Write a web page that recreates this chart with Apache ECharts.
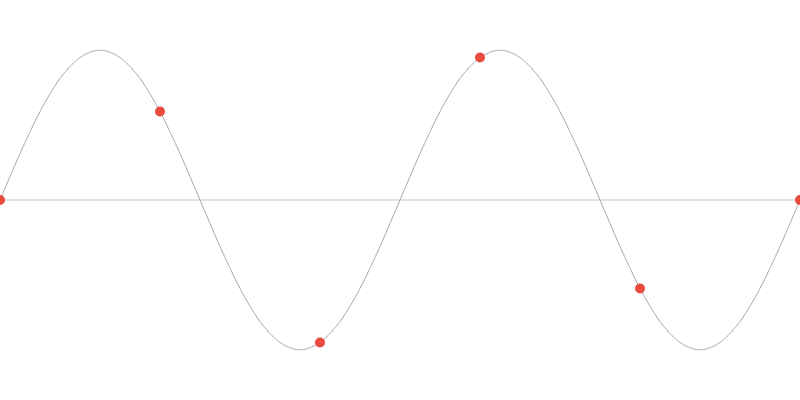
<!DOCTYPE html>
<html>
<head>
<meta charset="utf-8">
<script src="https://cdn.jsdelivr.net/npm/echarts@6/dist/echarts.min.js"></script>
<style>
  html, body { margin: 0; padding: 0; background: #fff; }
  #chart { width: 800px; height: 400px; }
</style>
</head>
<body>
<div id="chart"></div>
<script>
// wave samples, one every step (two full periods)
const waveX = [0, 1, 2, 3, 4, 5, 6, 7, 8, 9, 10, 11, 12, 13, 14, 15, 16, 17, 18, 19, 20,
  21, 22, 23, 24, 25, 26, 27, 28, 29, 30, 31, 32, 33, 34, 35, 36, 37, 38, 39, 40];
const waveY = [0, 0.31, 0.59, 0.81, 0.95, 1, 0.95, 0.81, 0.59, 0.31, 0,
  -0.31, -0.59, -0.81, -0.95, -1, -0.95, -0.81, -0.59, -0.31, 0,
  0.31, 0.59, 0.81, 0.95, 1, 0.95, 0.81, 0.59, 0.31, 0,
  -0.31, -0.59, -0.81, -0.95, -1, -0.95, -0.81, -0.59, -0.31, 0];

// red dots
const dotX = [0, 8, 16, 24, 32, 40];
const dotY = [0, 0.59, -0.95, 0.95, -0.59, 0];

const myChart = echarts.init(document.getElementById('chart'));
myChart.setOption({
  animation: false,
  grid: { left: 0, right: 0, top: 50, bottom: 50, containLabel: false },
  xAxis: {
    type: 'value',
    min: 0,
    max: 40,
    axisLine: { show: true, onZero: true, lineStyle: { color: '#e3e3e3', width: 2 } },
    axisTick: { show: false },
    axisLabel: { show: false },
    splitLine: { show: false }
  },
  yAxis: {
    type: 'value',
    min: -1,
    max: 1,
    axisLine: { show: false },
    axisTick: { show: false },
    axisLabel: { show: false },
    splitLine: { show: false }
  },
  series: [
    {
      type: 'line',
      data: waveX.map((x, i) => [x, waveY[i]]),
      smooth: 0.3,
      showSymbol: false,
      lineStyle: { color: '#a8a8a8', width: 1 },
      z: 2
    },
    {
      type: 'scatter',
      data: dotX.map((x, i) => [x, dotY[i]]),
      symbolSize: 10,
      itemStyle: { color: '#e74c3c', opacity: 1 },
      z: 3
    }
  ]
});
</script>
</body>
</html>
